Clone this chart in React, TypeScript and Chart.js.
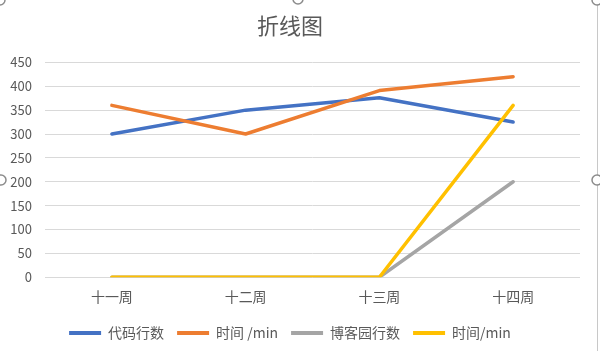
import React, { useEffect, useRef } from "react";
import { Chart, registerables } from "chart.js";

Chart.register(...registerables);

const categories = ["十一周", "十二周", "十三周", "十四周"];
const seriesNames = ["代码行数", "时间 /min", "博客园行数", "时间/min"];
const codeLines = [300, 350, 376, 325];
const timeMin = [360, 300, 391, 420];
const blogLines = [0, 0, 0, 200];
const blogTime = [0, 0, 0, 360];
const seriesColors = ["#4472C4", "#ED7D31", "#A5A5A5", "#FFC000"];
const yMin = 0;
const yMax = 450;
const yStep = 50;
const chartTitle = "折线图";

const FONT = "'Noto Sans CJK SC', 'Noto Sans', sans-serif";
const TEXT = "#595959";

const framePlugin = {
  id: "frameHandles",
  afterDraw(chart: any) {
    const ctx = chart.ctx as CanvasRenderingContext2D;
    const w = chart.width;
    const h = chart.height;
    ctx.save();
    ctx.strokeStyle = "#C8C8C8";
    ctx.lineWidth = 1;
    ctx.beginPath();
    ctx.moveTo(w - 2.5, 0);
    ctx.lineTo(w - 2.5, h);
    ctx.stroke();
    const handles = [
      [0, 0],
      [w / 2 - 2, -1],
      [w - 3, 0],
      [1, 180],
      [w - 3, 180],
    ];
    handles.forEach(([x, y]) => {
      ctx.beginPath();
      ctx.arc(x, y, 5, 0, Math.PI * 2);
      ctx.fillStyle = "#ffffff";
      ctx.fill();
      ctx.strokeStyle = "#8C8C8C";
      ctx.lineWidth = 1.5;
      ctx.stroke();
    });
    ctx.restore();
  },
};

export default function App() {
  const ref = useRef<HTMLCanvasElement | null>(null);

  useEffect(() => {
    document.body.style.margin = "0";
    if (!ref.current) return;
    const series = [codeLines, timeMin, blogLines, blogTime];
    const chart = new Chart(ref.current, {
      type: "line",
      data: {
        labels: categories,
        datasets: series.map((d, i) => ({
          label: seriesNames[i],
          data: d,
          borderColor: seriesColors[i],
          backgroundColor: seriesColors[i],
          borderWidth: 3.5,
          pointRadius: 0,
          pointHoverRadius: 0,
          tension: 0,
          borderCapStyle: "round" as const,
          borderJoinStyle: "round" as const,
          order: series.length - i,
        })),
      },
      options: {
        responsive: false,
        animation: false,
        layout: { padding: { left: 0, right: 20, top: 0, bottom: 1 } },
        plugins: {
          title: {
            display: true,
            text: chartTitle,
            color: TEXT,
            font: { size: 22, family: FONT, weight: "normal" },
            padding: { top: 12, bottom: 24 },
          },
          legend: {
            position: "bottom",
            labels: {
              boxWidth: 32,
              boxHeight: 4,
              padding: 13,
              color: TEXT,
              font: { size: 14, family: FONT },
              sort: (a: any, b: any) => a.datasetIndex - b.datasetIndex,
              generateLabels: (c: any) =>
                Chart.defaults.plugins.legend.labels
                  .generateLabels(c)
                  .map((l: any) => ({ ...l, lineWidth: 0, fillStyle: l.strokeStyle })),
            },
          },
          tooltip: { enabled: false },
        },
        scales: {
          x: {
            offset: true,
            grid: { display: false },
            border: { display: false },
            ticks: { color: TEXT, font: { size: 14, family: FONT }, padding: 3 },
            afterFit: (s: any) => {
              s.height += 5;
            },
          },
          y: {
            min: yMin,
            max: yMax,
            ticks: {
              stepSize: yStep,
              color: TEXT,
              font: { size: 13, family: FONT },
              padding: 13,
            },
            grid: { color: "#D9D9D9", drawTicks: false },
            border: { display: false },
            afterFit: (s: any) => {
              s.width = 45;
            },
          },
        },
      },
      plugins: [framePlugin],
    });
    return () => chart.destroy();
  }, []);

  return (
    <div style={{ width: 600, height: 351 }}>
      <canvas ref={ref} width={600} height={351} />
    </div>
  );
}
